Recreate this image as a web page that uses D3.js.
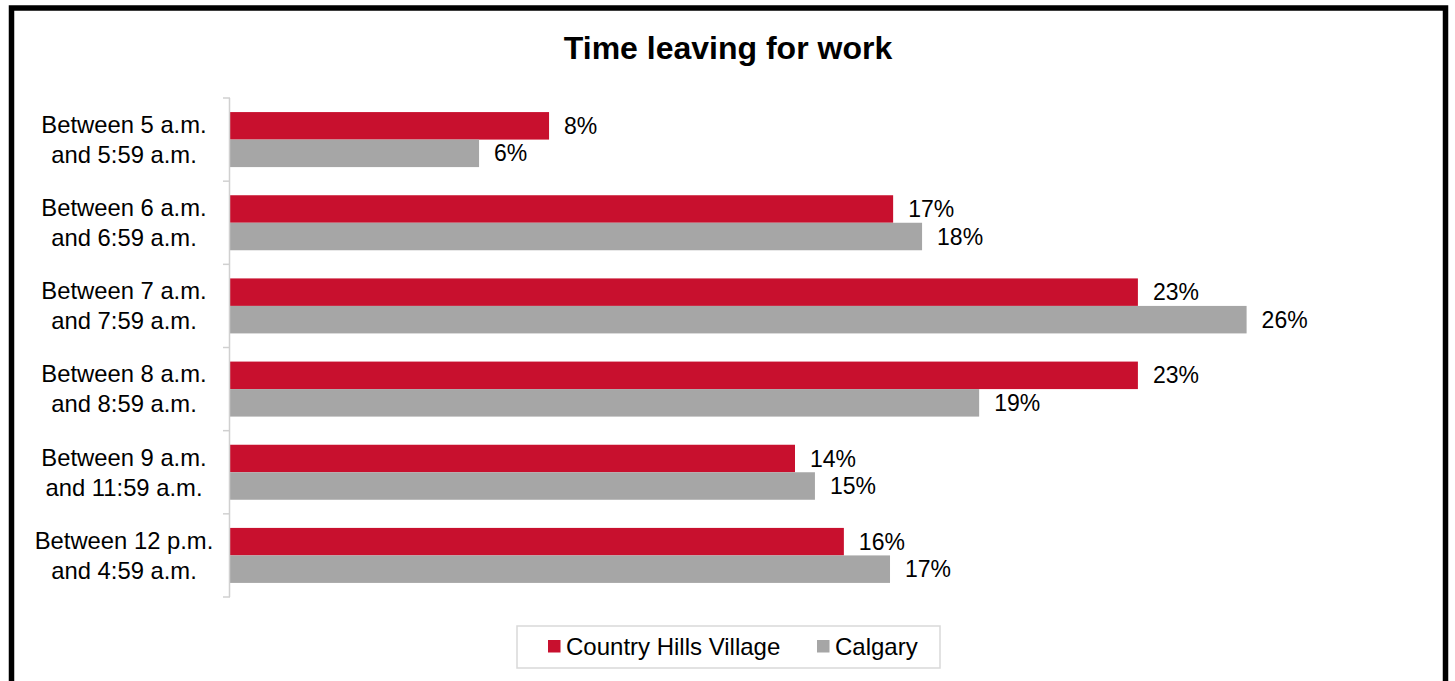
<!DOCTYPE html>
<html>
<head>
<meta charset="utf-8">
<script src="https://cdn.jsdelivr.net/npm/d3@7"></script>
<style>
  html, body { margin: 0; padding: 0; background: #fff; }
  svg { display: block; }
  text { font-family: "Liberation Sans", Arial, sans-serif; fill: #000; }
</style>
</head>
<body>
<svg id="chart" width="1455" height="681"></svg>
<script>
// ---- data ----
const categories = [
  ["Between 5 a.m.", "and 5:59 a.m."],
  ["Between 6 a.m.", "and 6:59 a.m."],
  ["Between 7 a.m.", "and 7:59 a.m."],
  ["Between 8 a.m.", "and 8:59 a.m."],
  ["Between 9 a.m.", "and 11:59 a.m."],
  ["Between 12 p.m.", "and 4:59 a.m."]
];
const seriesNames = ["Country Hills Village", "Calgary"];
const countryHillsVillage = [8.16, 16.96, 23.22, 23.22, 14.45, 15.70];
const calgary = [6.37, 17.70, 26.0, 19.16, 14.96, 16.88];
const seriesColors = ["#C8102E", "#A6A6A6"];
const title = "Time leaving for work";

// ---- layout ----
const svg = d3.select("#chart");
const plotLeft = 230, plotTop = 98, plotBottom = 597;

// outer frame
svg.append("rect")
  .attr("x", 11.5).attr("y", 8)
  .attr("width", 1434).attr("height", 720)
  .attr("fill", "none").attr("stroke", "#000").attr("stroke-width", 5.5);

// title
svg.append("text")
  .attr("x", 728).attr("y", 59)
  .attr("text-anchor", "middle")
  .style("font-size", "32px").style("font-weight", "bold")
  .text(title);

const keys = categories.map((c, i) => i);
const y = d3.scaleBand().domain(keys).range([plotTop, plotBottom]).padding(0);
const yInner = d3.scaleBand().domain(seriesNames).range([0, y.bandwidth()])
  .paddingInner(0).paddingOuter(0.512);
const x = d3.scaleLinear().domain([0, 30]).range([plotLeft, plotLeft + 30 * 39.1]);

const rows = keys.map(i => ({
  i,
  values: [
    { name: seriesNames[0], v: countryHillsVillage[i], color: seriesColors[0] },
    { name: seriesNames[1], v: calgary[i], color: seriesColors[1] }
  ]
}));

// bars
const g = svg.append("g");
const groups = g.selectAll("g.cat").data(rows).join("g")
  .attr("class", "cat")
  .attr("transform", d => `translate(0,${y(d.i)})`);

groups.selectAll("rect").data(d => d.values).join("rect")
  .attr("x", x(0))
  .attr("y", d => yInner(d.name))
  .attr("width", d => x(d.v) - x(0))
  .attr("height", yInner.bandwidth())
  .attr("fill", d => d.color);

const fmt = v => d3.format(".0f")(v) + "%";
groups.selectAll("text.val").data(d => d.values).join("text")
  .attr("class", "val")
  .attr("x", d => x(d.v) + 15)
  .attr("y", d => yInner(d.name) + yInner.bandwidth() / 2)
  .attr("dy", "0.35em")
  .style("font-size", "23px")
  .text(d => fmt(d.v));

// axis line with ticks at category boundaries
const axisG = svg.append("g");
axisG.append("line")
  .attr("x1", plotLeft - 0.5).attr("x2", plotLeft - 0.5)
  .attr("y1", plotTop).attr("y2", plotBottom)
  .attr("stroke", "#d0d0d0").attr("stroke-width", 1.5);
const boundaries = keys.map(k => y(k)).concat([y(keys[keys.length - 1]) + y.step()]);
axisG.selectAll("line.tick").data(boundaries).join("line")
  .attr("class", "tick")
  .attr("x1", plotLeft - 7).attr("x2", plotLeft)
  .attr("y1", d => d).attr("y2", d => d)
  .attr("stroke", "#d0d0d0").attr("stroke-width", 1.5);

// category labels
const lab = svg.append("g");
rows.forEach(r => {
  const cy = y(r.i) + y.bandwidth() / 2;
  const t = lab.append("text")
    .attr("text-anchor", "middle")
    .style("font-size", "23.8px");
  categories[r.i].forEach((line, j) => {
    t.append("tspan")
      .attr("x", 124)
      .attr("y", cy + (j === 0 ? -15 : 15))
      .attr("dy", "0.35em")
      .text(line);
  });
});

// legend
const lg = svg.append("g");
lg.append("rect")
  .attr("x", 517).attr("y", 626)
  .attr("width", 423).attr("height", 42)
  .attr("fill", "#fff").attr("stroke", "#d9d9d9").attr("stroke-width", 1.5);
const legendX = [548, 817];
seriesNames.forEach((name, i) => {
  lg.append("rect")
    .attr("x", legendX[i]).attr("y", 640)
    .attr("width", 12.5).attr("height", 12.5)
    .attr("fill", seriesColors[i]);
  lg.append("text")
    .attr("x", legendX[i] + 18).attr("y", 647)
    .attr("dy", "0.35em")
    .style("font-size", "24px")
    .text(name);
});
</script>
</body>
</html>
